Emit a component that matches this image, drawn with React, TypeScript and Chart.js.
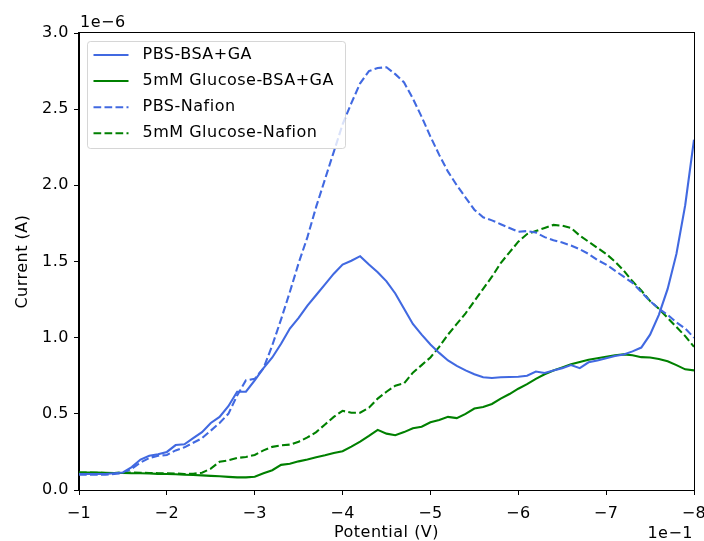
import React, { useEffect, useRef } from "react";
import { Chart, registerables } from "chart.js";

Chart.register(...registerables);

// Potential in units of 1e-1 V
const potential = [
  -1.0, -1.1, -1.2, -1.3, -1.4, -1.5, -1.6, -1.7, -1.8, -1.9,
  -2.0, -2.1, -2.2, -2.3, -2.4, -2.5, -2.6, -2.7, -2.8, -2.9,
  -3.0, -3.1, -3.2, -3.3, -3.4, -3.5, -3.6, -3.7, -3.8, -3.9,
  -4.0, -4.1, -4.2, -4.3, -4.4, -4.5, -4.6, -4.7, -4.8, -4.9,
  -5.0, -5.1, -5.2, -5.3, -5.4, -5.5, -5.6, -5.7, -5.8, -5.9,
  -6.0, -6.1, -6.2, -6.3, -6.4, -6.5, -6.6, -6.7, -6.8, -6.9,
  -7.0, -7.1, -7.2, -7.3, -7.4, -7.5, -7.6, -7.7, -7.8, -7.9,
  -8.0,
];

// Current in units of 1e-6 A
const pbsBsaGa = [
  0.105, 0.105, 0.105, 0.105, 0.11, 0.115, 0.15, 0.2, 0.225, 0.235,
  0.25, 0.295, 0.3, 0.34, 0.38, 0.44, 0.48, 0.55, 0.645, 0.645,
  0.72, 0.8, 0.87, 0.96, 1.06, 1.13, 1.21, 1.28, 1.35, 1.42,
  1.48, 1.505, 1.535, 1.48, 1.43, 1.37, 1.29, 1.19, 1.09, 1.02,
  0.955, 0.9, 0.85, 0.815, 0.785, 0.76, 0.74, 0.735, 0.74, 0.742,
  0.743, 0.75, 0.778, 0.768, 0.785, 0.8, 0.82, 0.8, 0.838, 0.85,
  0.865, 0.88, 0.89, 0.91, 0.935, 1.02, 1.15, 1.32, 1.55, 1.87,
  2.3,
];

const glucoseBsaGa = [
  0.115, 0.115, 0.115, 0.113, 0.112, 0.112, 0.11, 0.11, 0.108, 0.106,
  0.105, 0.103, 0.1, 0.098, 0.096, 0.093, 0.09, 0.086, 0.083, 0.083,
  0.087, 0.11, 0.13, 0.165, 0.172, 0.188, 0.2, 0.215, 0.228, 0.243,
  0.255, 0.285, 0.318, 0.355, 0.395, 0.37, 0.36, 0.38, 0.405, 0.415,
  0.445, 0.46, 0.48, 0.472, 0.5, 0.535, 0.545, 0.565, 0.6, 0.63,
  0.665, 0.695, 0.73, 0.76, 0.785, 0.805, 0.825, 0.84, 0.855, 0.865,
  0.875, 0.885, 0.89, 0.885, 0.872, 0.87, 0.86, 0.845, 0.82, 0.792,
  0.785,
];

const pbsNafion = [
  0.1, 0.1, 0.1, 0.1, 0.105, 0.11, 0.14, 0.18, 0.21, 0.225,
  0.23, 0.26, 0.28, 0.31, 0.34, 0.39, 0.44, 0.5, 0.62, 0.72,
  0.73, 0.8, 0.95, 1.12, 1.3, 1.49, 1.66, 1.86, 2.04, 2.22,
  2.4, 2.54, 2.67, 2.75, 2.77, 2.775, 2.73, 2.675, 2.57, 2.45,
  2.32, 2.2, 2.09, 2.0, 1.92, 1.84, 1.79, 1.77, 1.745, 1.72,
  1.695, 1.7, 1.69, 1.66, 1.64, 1.625, 1.605, 1.58, 1.55, 1.51,
  1.48, 1.44, 1.4, 1.36, 1.3, 1.24, 1.19, 1.15, 1.1, 1.06,
  1.0,
];

const glucoseNafion = [
  0.115, 0.115, 0.113, 0.112, 0.112, 0.115, 0.115, 0.113, 0.112, 0.11,
  0.11, 0.108, 0.105, 0.107, 0.113, 0.14, 0.185, 0.195, 0.21, 0.217,
  0.23, 0.26, 0.283, 0.293, 0.298, 0.317, 0.345, 0.38, 0.43, 0.48,
  0.52, 0.507, 0.507, 0.54, 0.6, 0.645, 0.685, 0.7, 0.77, 0.82,
  0.87, 0.94, 1.02, 1.09, 1.16, 1.24, 1.32, 1.4, 1.49, 1.56,
  1.63, 1.68, 1.7, 1.72, 1.74, 1.735, 1.72, 1.67, 1.63, 1.59,
  1.55, 1.5, 1.44, 1.37, 1.31, 1.24, 1.19, 1.13, 1.07, 1.01,
  0.94,
];

const seriesLabels = [
  "PBS-BSA+GA",
  "5mM Glucose-BSA+GA",
  "PBS-Nafion",
  "5mM Glucose-Nafion",
];

const xTicks = [-1, -2, -3, -4, -5, -6, -7, -8];
const yTicks = [0, 0.5, 1.0, 1.5, 2.0, 2.5, 3.0];
const xOffsetText = "1e\u22121";
const yOffsetText = "1e\u22126";
const xTitle = "Potential (V)";
const yTitle = "Current (A)";

const FONT = "'DejaVu Sans', 'Liberation Sans', sans-serif";
const FS = 16;
const LS = "0.5px";
const BLUE = "#4169e1";
const GREEN = "#008000";
const DASH = [7.7, 3.3];

const fmtMinus = (v: number) => (v < 0 ? "\u2212" + Math.abs(v) : String(v));

const spacingPlugin = {
  id: "spacing",
  beforeDraw(chart: any) {
    (chart.ctx as any).letterSpacing = LS;
  },
};

const decorPlugin = {
  id: "decor",
  afterDatasetsDraw(chart: any) {
    const { ctx, chartArea } = chart;
    ctx.save();
    (ctx as any).letterSpacing = LS;
    // frame (spines)
    ctx.strokeStyle = "#000";
    ctx.lineWidth = 1;
    ctx.strokeRect(
      Math.round(chartArea.left) - 0.5,
      Math.round(chartArea.top) - 0.5,
      Math.round(chartArea.right - chartArea.left) + 1,
      Math.round(chartArea.bottom - chartArea.top) + 1
    );

    // legend
    const bx = 87.5, by = 41.5, bw = 258, bh = 107, r = 3;
    ctx.beginPath();
    ctx.moveTo(bx + r, by);
    ctx.lineTo(bx + bw - r, by);
    ctx.arcTo(bx + bw, by, bx + bw, by + r, r);
    ctx.lineTo(bx + bw, by + bh - r);
    ctx.arcTo(bx + bw, by + bh, bx + bw - r, by + bh, r);
    ctx.lineTo(bx + r, by + bh);
    ctx.arcTo(bx, by + bh, bx, by + bh - r, r);
    ctx.lineTo(bx, by + r);
    ctx.arcTo(bx, by, bx + r, by, r);
    ctx.closePath();
    ctx.fillStyle = "rgba(255,255,255,0.8)";
    ctx.fill();
    ctx.strokeStyle = "rgba(204,204,204,0.8)";
    ctx.lineWidth = 1;
    ctx.stroke();

    const rowY = [55, 81, 107.2, 133.3];
    chart.data.datasets.forEach((ds: any, i: number) => {
      const y = rowY[i];
      ctx.beginPath();
      ctx.setLineDash(ds.borderDash || []);
      ctx.strokeStyle = ds.borderColor;
      ctx.lineWidth = ds.borderWidth;
      ctx.moveTo(93.5, y);
      ctx.lineTo(128.5, y);
      ctx.stroke();
      ctx.setLineDash([]);
      ctx.fillStyle = "#000";
      ctx.font = FS + "px " + FONT;
      ctx.textAlign = "left";
      ctx.textBaseline = "middle";
      ctx.fillText(ds.label, 142.5, y);
    });

    // offset texts
    ctx.font = FS + "px " + FONT;
    ctx.fillStyle = "#000";
    ctx.textBaseline = "alphabetic";
    ctx.textAlign = "left";
    ctx.fillText(yOffsetText, chartArea.left + 1, 27);
    ctx.textAlign = "right";
    ctx.fillText(xOffsetText, chartArea.right - 1, 538);
    ctx.restore();
  },
};

export default function App() {
  const canvasRef = useRef<HTMLCanvasElement | null>(null);

  useEffect(() => {
    const canvas = canvasRef.current;
    if (!canvas) return;
    const mk = (arr: number[]) => potential.map((x, i) => ({ x, y: arr[i] }));
    const tickFont = { family: FONT, size: FS, lineHeight: 1.2 };
    const chart = new Chart(canvas, {
      type: "line",
      data: {
        datasets: [
          { label: seriesLabels[0], data: mk(pbsBsaGa), borderColor: BLUE, borderWidth: 2.1, pointRadius: 0, tension: 0, fill: false },
          { label: seriesLabels[1], data: mk(glucoseBsaGa), borderColor: GREEN, borderWidth: 2.1, pointRadius: 0, tension: 0, fill: false },
          { label: seriesLabels[2], data: mk(pbsNafion), borderColor: BLUE, borderWidth: 2.1, borderDash: DASH, pointRadius: 0, tension: 0, fill: false },
          { label: seriesLabels[3], data: mk(glucoseNafion), borderColor: GREEN, borderWidth: 2.1, borderDash: DASH, pointRadius: 0, tension: 0, fill: false },
        ],
      },
      options: {
        responsive: false,
        animation: false,
        devicePixelRatio: 1,
        layout: { padding: { left: 0, right: 10, top: 33, bottom: 0 } },
        plugins: {
          legend: { display: false },
          tooltip: { enabled: false },
        },
        scales: {
          x: {
            type: "linear",
            reverse: true,
            min: -8,
            max: -1,
            afterBuildTicks: (axis: any) => {
              axis.ticks = xTicks.map((v) => ({ value: v }));
            },
            afterFit: (axis: any) => {
              axis.height = 51;
              axis.paddingLeft = 0;
              axis.paddingRight = 0;
            },
            ticks: {
              autoSkip: false,
              maxRotation: 0,
              padding: 9,
              color: "#000",
              font: tickFont,
              callback: (v: any) => fmtMinus(Number(v)),
            },
            grid: { drawOnChartArea: false, drawTicks: true, tickLength: 5, tickColor: "#000", tickWidth: 1 },
            border: { display: true, color: "#000", width: 1 },
            title: {
              display: true,
              text: xTitle,
              color: "#000",
              font: tickFont,
              padding: { top: 0, bottom: -1.3 },
            },
          },
          y: {
            type: "linear",
            min: 0,
            max: 3,
            afterBuildTicks: (axis: any) => {
              axis.ticks = yTicks.map((v) => ({ value: v }));
            },
            afterFit: (axis: any) => {
              axis.width = 79;
            },
            ticks: {
              autoSkip: false,
              padding: 5,
              color: "#000",
              font: tickFont,
              callback: (v: any) => Number(v).toFixed(1),
            },
            grid: { drawOnChartArea: false, drawTicks: true, tickLength: 5, tickColor: "#000", tickWidth: 1 },
            border: { display: true, color: "#000", width: 1 },
            title: {
              display: true,
              text: yTitle,
              color: "#000",
              font: tickFont,
              padding: { top: 13, bottom: 0 },
            },
          },
        },
      },
      plugins: [spacingPlugin, decorPlugin],
    } as any);
    return () => chart.destroy();
  }, []);

  return (
    <div style={{ position: "fixed", left: 0, top: 0, width: 704, height: 541, background: "#fff" }}>
      <canvas ref={canvasRef} width={704} height={541} style={{ display: "block", width: 704, height: 541 }} />
    </div>
  );
}
